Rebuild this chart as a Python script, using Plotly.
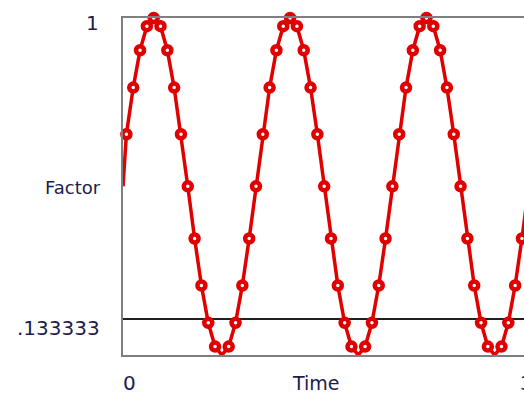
import plotly.graph_objects as go

# Time values (first point is the initial value at Time 0)
time = [0,
        0.25, 0.75, 1.25, 1.75, 2.25, 2.75, 3.25, 3.75, 4.25, 4.75,
        5.25, 5.75, 6.25, 6.75, 7.25, 7.75, 8.25, 8.75, 9.25, 9.75,
        10.25, 10.75, 11.25, 11.75, 12.25, 12.75, 13.25, 13.75, 14.25, 14.75,
        15.25, 15.75, 16.25, 16.75, 17.25, 17.75, 18.25, 18.75, 19.25, 19.75,
        20.25, 20.75, 21.25, 21.75, 22.25, 22.75, 23.25, 23.75, 24.25, 24.75,
        25.25, 25.75, 26.25, 26.75, 27.25, 27.75, 28.25, 28.75, 29.25, 29.75]

factor = [0.567,
          0.701, 0.821, 0.917, 0.979, 1.000, 0.979, 0.917, 0.821, 0.701, 0.567,
          0.433, 0.312, 0.216, 0.155, 0.133, 0.155, 0.216, 0.312, 0.433,
          0.567, 0.701, 0.821, 0.917, 0.979, 1.000, 0.979, 0.917, 0.821, 0.701,
          0.567, 0.433, 0.312, 0.216, 0.155, 0.133, 0.155, 0.216, 0.312, 0.433,
          0.567, 0.701, 0.821, 0.917, 0.979, 1.000, 0.979, 0.917, 0.821, 0.701,
          0.567, 0.433, 0.312, 0.216, 0.155, 0.133, 0.155, 0.216, 0.312, 0.433,
          0.567]

ref_time = [0, 30]
ref_value = [0.226, 0.226]

y_min, y_max = 0.133333, 1.0
x_min, x_max = 0, 29.4

y_labels = ["1", "Factor", ".133333"]
x_labels = ["0", "Time", "30"]

W, H = 524, 394
L, T, R, B = 123, 18, 0, 39
PW, PH = W - L - R, H - T - B

def px(xp):
    return (xp - L) / PW

def py(yp):
    return (H - B - yp) / PH

RED = "#e00000"
TXT = "#1c1c50"
FONT = "DejaVu Sans"

fig = go.Figure()
fig.add_trace(go.Scatter(x=ref_time, y=ref_value, mode="lines",
                         line=dict(color="#202020", width=2), hoverinfo="skip"))
fig.add_trace(go.Scatter(x=time, y=factor, mode="lines",
                         line=dict(color=RED, width=3.5)))
fig.add_trace(go.Scatter(x=time[1:], y=factor[1:], mode="markers",
                         marker=dict(symbol="circle", size=8, color="white",
                                     line=dict(color=RED, width=4.5)),
                         cliponaxis=False))

fig.update_layout(
    width=W, height=H,
    margin=dict(l=L, r=R, t=T, b=B),
    paper_bgcolor="white", plot_bgcolor="white",
    showlegend=False,
    xaxis=dict(range=[x_min, x_max], showgrid=False, zeroline=False,
               showticklabels=False, ticks="", showline=True, mirror=True,
               linecolor="#7f7f7f", linewidth=2),
    yaxis=dict(range=[y_min, y_max], showgrid=False, zeroline=False,
               showticklabels=False, ticks="", showline=True, mirror=False,
               linecolor="#7f7f7f", linewidth=2),
)

ann = [
    dict(text=y_labels[0], x=px(101), y=py(23), xanchor="right", yanchor="middle", size=20),
    dict(text=y_labels[1], x=px(103), y=py(187), xanchor="right", yanchor="middle", size=18),
    dict(text=y_labels[2], x=px(102), y=py(328), xanchor="right", yanchor="middle", size=20),
    dict(text=x_labels[0], x=px(121), y=py(383), xanchor="left", yanchor="middle", size=20),
    dict(text=x_labels[1], x=px(316), y=py(383), xanchor="center", yanchor="middle", size=19),
    dict(text=x_labels[2], x=px(518), y=py(383), xanchor="left", yanchor="middle", size=20),
]
for a in ann:
    s = a.pop("size")
    a.update(xref="paper", yref="paper", showarrow=False,
             font=dict(family=FONT, size=s, color=TXT))
    fig.add_annotation(**a)

fig.write_html(
    "out.html",
    config={"displayModeBar": False},
    post_script="document.body.style.margin='0';document.body.style.overflow='hidden';",
)
